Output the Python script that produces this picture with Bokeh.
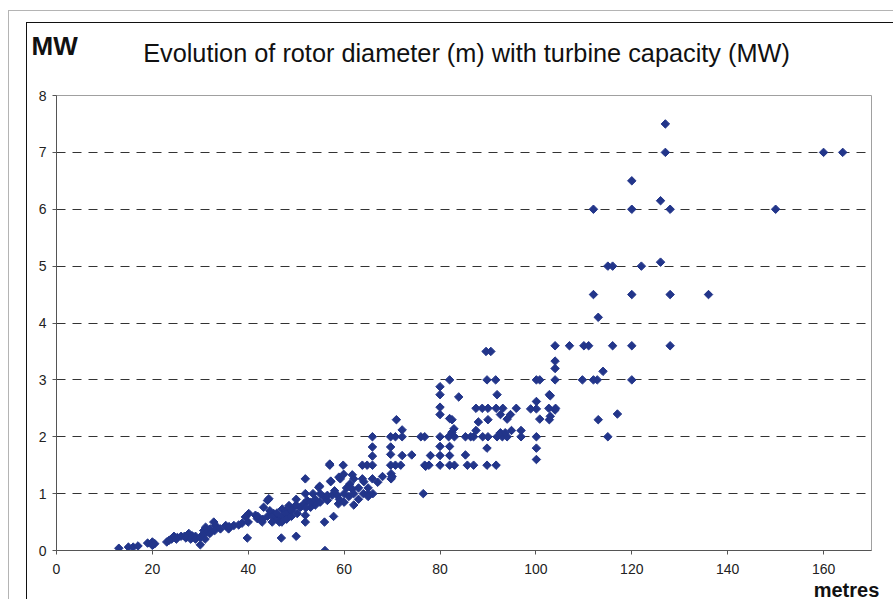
import numpy as np
from bokeh.plotting import figure
from bokeh.models import Range1d, Label, FixedTicker, InlineStyleSheet
from bokeh.embed import file_html
from bokeh.resources import INLINE

# Rotor diameter (m) vs turbine capacity (MW)
rotor_diameter_m = [
    13, 15, 16, 17, 19, 20, 20, 20.5,
    23, 24, 24.5, 25.2, 26, 26.7, 27.6, 28.3, 23.5, 25, 27, 28, 29,
    30, 29, 30, 30.7, 31.1, 31.4, 32.1, 32.8, 33.2, 30.5, 31, 32, 33,
    34.2, 35.3, 35.9, 37, 38.7, 39.4, 40.1, 41.5, 41.9, 39.8, 40, 38, 36,
    42.9, 44, 44.3, 43.2, 45.3, 46, 47.1, 47.8, 48.5, 49.5, 50.2, 50.9, 51.6, 52.3, 53,
    46.9, 50, 51.9, 51.9, 51.9, 51.9, 54.7, 55.8, 56.5, 55.9, 56, 57, 57.2, 58.9, 57.8,
    58.8, 56.5, 57.5, 58.6,
    42, 43, 44, 45, 46, 47, 48, 49, 44.5, 46.5, 48, 50, 52, 53, 54, 54, 55, 53.5, 55,
    50, 49, 47, 45,
    54.9, 57.2, 59.2, 59.9, 61.7, 62, 61.2, 63.8, 64.1, 65.9, 69.8, 69.8, 61, 61.7,
    57, 59.8, 63.8, 64.8, 65.9, 69.7, 70.7, 71.8, 76.8, 77.7, 80, 82, 83, 85.7, 87,
    89.8, 91.7, 77,
    60, 61, 62, 63, 64, 65, 66, 60, 62, 59, 58, 60.5, 63, 65, 67, 68, 76.5, 70, 65,
    65.9, 65.9, 69.7, 69.7, 72.1, 74.1, 78, 80, 82, 80, 82, 85.3, 89.8, 100.1, 100.1,
    65.9, 69.7, 70.7, 72.1, 76, 76.8, 80, 81.8, 83, 85.3, 86.4, 87, 88.9, 90,
    91.9, 93, 94, 96.9, 100.1,
    70.9, 72.1, 88, 82.9, 82.5, 94.9, 96.9, 87.5, 92.6, 93.6,
    94.7, 92.6, 94, 82, 82.5, 90, 100.8, 102.8,
    80, 80, 87.5, 88.8, 90, 91.7, 93.1, 95.9, 102.7, 104.1,
    100.1, 100.1, 98.9,
    80, 80, 83.9, 91.9, 102.8,
    82, 89.8, 91.6, 100.1, 100.8, 104, 109.7, 112, 112.8, 120,
    89.6, 90.6,
    104, 104, 114, 103, 104, 103, 113, 117, 115,
    104, 107, 110, 111, 116, 120, 128,
    113, 112, 120, 128, 136,
    115, 116, 122, 126,
    112, 120, 128, 150, 126, 120,
    127, 127, 160, 164,
]
capacity_mw = [
    0.04, 0.06, 0.06, 0.08, 0.13, 0.15, 0.09, 0.12,
    0.15, 0.2, 0.25, 0.23, 0.25, 0.25, 0.3, 0.26, 0.18, 0.2, 0.22, 0.2, 0.25,
    0.1, 0.2, 0.23, 0.35, 0.41, 0.32, 0.38, 0.5, 0.44, 0.28, 0.2, 0.3, 0.35,
    0.38, 0.44, 0.38, 0.44, 0.48, 0.59, 0.65, 0.62, 0.56, 0.22, 0.5, 0.45, 0.42,
    0.5, 0.88, 0.91, 0.76, 0.65, 0.56, 0.73, 0.7, 0.79, 0.76, 0.65, 0.76, 0.82, 0.88, 0.76,
    0.22, 0.25, 1.26, 1.0, 0.62, 0.5, 1.11, 0.94, 0.88, 0.5, 0.0, 1.52, 1.21, 1.29, 0.6,
    0.82, 0.97, 0.97, 0.97,
    0.6, 0.55, 0.6, 0.6, 0.66, 0.6, 0.65, 0.7, 0.7, 0.5, 0.55, 0.8, 0.75, 0.85, 0.9, 0.8, 0.85, 1.0, 1.0,
    0.9, 0.6, 0.5, 0.5,
    1.13, 1.22, 1.26, 1.34, 1.33, 1.26, 1.17, 1.26, 1.21, 1.26, 1.35, 1.26, 1.13, 1.08,
    1.5, 1.5, 1.5, 1.5, 1.5, 1.5, 1.5, 1.5, 1.5, 1.5, 1.5, 1.5, 1.5, 1.5, 1.5,
    1.5, 1.5, 1.48,
    1.0, 0.95, 1.0, 0.9, 1.0, 1.0, 1.0, 0.85, 0.8, 0.9, 1.05, 1.1, 1.1, 1.1, 1.2, 1.3, 1.0, 1.3, 0.95,
    1.82, 1.66, 1.82, 1.69, 1.67, 1.68, 1.67, 1.83, 1.83, 1.67, 1.67, 1.68, 1.8, 1.8, 1.6,
    2.0, 2.0, 2.0, 2.0, 2.0, 2.0, 2.0, 2.0, 2.0, 2.0, 2.0, 2.0, 2.0, 2.0,
    2.0, 2.0, 2.0, 2.0, 2.0,
    2.3, 2.12, 2.26, 2.14, 2.08, 2.11, 2.11, 2.11, 2.07, 2.07,
    2.39, 2.39, 2.31, 2.32, 2.3, 2.3, 2.31, 2.3,
    2.52, 2.39, 2.5, 2.5, 2.5, 2.5, 2.5, 2.5, 2.5, 2.5,
    2.62, 2.49, 2.49,
    2.88, 2.74, 2.7, 2.74, 2.74,
    3.0, 3.0, 3.0, 3.0, 3.0, 3.0, 3.0, 3.0, 3.0, 3.0,
    3.5, 3.5,
    3.33, 3.2, 3.15, 2.72, 2.47, 2.36, 2.3, 2.4, 2.0,
    3.6, 3.6, 3.6, 3.6, 3.6, 3.6, 3.6,
    4.1, 4.5, 4.5, 4.5, 4.5,
    5.0, 5.0, 5.0, 5.07,
    6.0, 6.0, 6.0, 6.0, 6.15, 6.5,
    7.5, 7.0, 7.0, 7.0,
]

x_ticks = [0, 20, 40, 60, 80, 100, 120, 140, 160]
y_ticks = [0, 1, 2, 3, 4, 5, 6, 7, 8]

frame_css = InlineStyleSheet(css="""
:host { position: relative; }
:host::before {
  content: ""; position: absolute; pointer-events: none; z-index: 5;
  left: 8px; top: 10px; width: 900px; height: 600px;
  border-left: 1.5px solid #b4b4b4; border-top: 1.5px solid #b4b4b4;
}
:host::after {
  content: ""; position: absolute; pointer-events: none; z-index: 5;
  left: 26px; top: 22px; width: 880px; height: 590px;
  border-left: 1.5px solid #111111; border-top: 1.5px solid #111111;
}
""")

p = figure(width=893, height=599, x_range=Range1d(0, 170), y_range=Range1d(0, 8),
           output_backend="svg", toolbar_location=None,
           min_border_left=56, min_border_right=22, min_border_top=95, min_border_bottom=49)
p.stylesheets = [frame_css]

p.background_fill_color = "white"
p.border_fill_color = "white"
p.outline_line_color = "#a0a0a0"
p.outline_line_width = 1

p.xgrid.grid_line_color = None
p.ygrid.grid_line_color = "#333333"
p.ygrid.grid_line_dash = "9 7"
p.ygrid.grid_line_width = 1

for ax, ticks in ((p.xaxis, x_ticks), (p.yaxis, y_ticks)):
    ax.ticker = FixedTicker(ticks=ticks)
    ax.minor_tick_line_color = None
    ax.major_tick_in = 0
    ax.major_tick_out = 4
    ax.axis_line_color = "#555555"
    ax.major_tick_line_color = "#555555"
    ax.major_label_text_font = "Liberation Sans"
    ax.major_label_text_font_size = "14px"
    ax.major_label_text_color = "#222222"
p.yaxis.major_label_standoff = 6
p.xaxis.major_label_standoff = 9

p.scatter(rotor_diameter_m, capacity_mw, marker="square", angle=np.pi / 4, size=6,
          fill_color="#22358A", line_color="#22358A", line_width=1)

# texts outside the plot frame: placed in the side panel so they are not clipped
p.add_layout(Label(x=31, y=45, x_units="canvas", y_units="canvas", text="MW",
                   text_font="Liberation Sans", text_font_style="bold",
                   text_font_size="26px", text_color="#111111",
                   text_align="left", text_baseline="middle"), "above")
p.add_layout(Label(x=466, y=52, x_units="canvas", y_units="canvas",
                   text="Evolution of rotor diameter (m) with turbine capacity (MW)",
                   text_font="Liberation Sans", text_font_size="25.3px", text_color="#111111",
                   text_align="center", text_baseline="middle"), "above")
p.add_layout(Label(x=846, y=589, x_units="canvas", y_units="canvas", text="metres",
                   text_font="Liberation Sans", text_font_style="bold",
                   text_font_size="20px", text_color="#111111",
                   text_align="center", text_baseline="middle"), "above")

open("out.html", "w").write(file_html(p, INLINE))
